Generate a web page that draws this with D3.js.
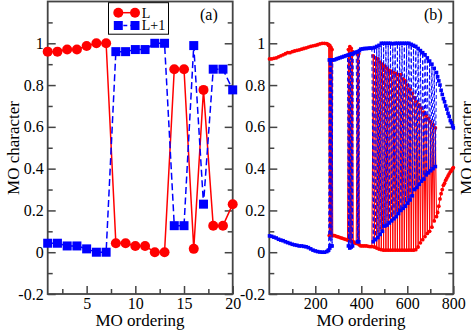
<!DOCTYPE html>
<html lang="en">
<head>
  <meta charset="UTF-8">
  <title>MO character vs MO ordering</title>
  <script src="https://d3js.org/d3.v7.min.js"></script>
  <style>
    body { margin: 0; background: #fff; }
    svg { display: block; }
    text { font-family: "Liberation Serif", "Times New Roman", serif; fill: #000; }
    .axis path { display: none; }
    .axis line { stroke: #444; stroke-width: 1.5px; }
    .axis text { font-size: 16px; }
    .frame { fill: none; stroke: #444; stroke-width: 1.8px; }
    .title { font-size: 17px; }
  </style>
</head>
<body>
  <svg width="471" height="332"></svg>
  <script>
    // panel (a): first 20 MOs
    const aOrder = [1, 2, 3, 4, 5, 6, 7, 8, 9, 10, 11, 12, 13, 14, 15, 16, 17, 18, 19, 20];
    const aL  = [0.96, 0.96, 0.97, 0.97, 0.987, 1.0, 1.0, 0.043, 0.043, 0.03, 0.03, 0.0, 0.0, 0.876, 0.876, 0.016, 0.777, 0.127, 0.127, 0.23];
    const aL1 = [0.043, 0.043, 0.03, 0.03, 0.016, 0.0, 0.0, 0.96, 0.96, 0.97, 0.97, 1.0, 1.0, 0.127, 0.127, 0.989, 0.23, 0.876, 0.876, 0.777];

    // panel (b): all MOs
    const bOrder = [
      1, 10, 20, 30, 40, 50, 60, 70, 80, 90, 100, 110, 120, 130, 140, 150, 160, 170, 180, 190, 200, 210, 220, 230, 240, 250, 256,
      258, 261, 263, 266, 268, 271, 273, 276,
      284, 292, 300, 308, 316, 324, 332, 340,
      344, 347, 350, 353, 356, 359, 362, 365,
      370, 378,
      383, 386, 389, 392,
      398, 406, 414, 422, 430, 438, 446,
      452, 457, 462, 467, 472, 477, 482, 487, 492, 497, 502, 507, 512, 517, 522, 527, 532, 537, 542, 547,
      552, 557, 562, 567, 572, 577, 582, 587, 592, 597, 602, 607, 612, 617, 622, 627, 632, 637, 642, 647,
      652, 657, 662, 667, 672, 677, 682, 687, 692, 697, 702, 707, 712, 717, 722,
      727, 732, 737, 742, 747, 752, 757, 762, 767, 772, 777, 782, 787, 792, 797, 800
    ];
    const bL = [
      0.925, 0.925, 0.928, 0.93, 0.935, 0.94, 0.945, 0.95, 0.955, 0.955, 0.96, 0.963, 0.966, 0.968, 0.972, 0.975, 0.978, 0.982, 0.985, 0.988, 0.99, 0.993, 0.997, 1.0, 1.0, 0.998, 0.995,
      0.99, 0.08, 0.99, 0.08, 0.98, 0.08, 0.97, 0.08,
      0.079, 0.076, 0.073, 0.07, 0.067, 0.064, 0.061, 0.058,
      0.97, 0.06, 0.984, 0.055, 0.975, 0.05, 0.96, 0.05,
      0.045, 0.042,
      0.95, 0.04, 0.95, 0.035,
      0.03, 0.03, 0.03, 0.03, 0.028, 0.027, 0.027,
      0.94, 0.025, 0.93, 0.02, 0.925, 0.015, 0.91, 0.012, 0.9, 0.01, 0.89, 0.01, 0.88, 0.01, 0.87, 0.01, 0.865, 0.01, 0.86, 0.01,
      0.855, 0.01, 0.85, 0.01, 0.85, 0.01, 0.83, 0.01, 0.82, 0.01, 0.8, 0.01, 0.78, 0.01, 0.76, 0.01, 0.74, 0.012, 0.72, 0.025,
      0.705, 0.045, 0.69, 0.06, 0.67, 0.075, 0.655, 0.09, 0.64, 0.1, 0.625, 0.12, 0.61, 0.15, 0.595,
      0.17, 0.19, 0.22, 0.255, 0.28, 0.3, 0.32, 0.33, 0.345, 0.355, 0.365, 0.375, 0.385, 0.39, 0.4, 0.405
    ];
    const bL1 = [
      0.078, 0.076, 0.072, 0.068, 0.062, 0.058, 0.055, 0.05, 0.046, 0.042, 0.038, 0.035, 0.033, 0.03, 0.03, 0.028, 0.026, 0.022, 0.016, 0.01, 0.006, 0.003, 0.001, 0.0, 0.0, 0.003, 0.008,
      0.01, 0.92, 0.02, 0.92, 0.03, 0.92, 0.03, 0.92,
      0.921, 0.925, 0.928, 0.931, 0.934, 0.937, 0.94, 0.943,
      0.03, 0.945, 0.02, 0.948, 0.025, 0.95, 0.03, 0.95,
      0.955, 0.958,
      0.05, 0.96, 0.05, 0.965,
      0.972, 0.973, 0.975, 0.975, 0.976, 0.977, 0.977,
      0.05, 0.98, 0.06, 0.985, 0.07, 0.99, 0.085, 1.0, 0.1, 1.0, 0.125, 1.0, 0.13, 1.0, 0.14, 1.0, 0.15, 0.998, 0.16, 1.0,
      0.17, 1.0, 0.185, 1.0, 0.2, 1.0, 0.21, 1.0, 0.22, 1.0, 0.235, 1.0, 0.25, 0.995, 0.27, 0.99, 0.3, 0.985, 0.31, 0.975,
      0.325, 0.965, 0.34, 0.955, 0.35, 0.945, 0.37, 0.93, 0.38, 0.915, 0.39, 0.9, 0.4, 0.88, 0.41,
      0.86, 0.84, 0.82, 0.8, 0.775, 0.755, 0.735, 0.72, 0.7, 0.685, 0.665, 0.65, 0.63, 0.62, 0.605, 0.595
    ];

    const yMajor = [-0.2, 0, 0.2, 0.4, 0.6, 0.8, 1];
    const yMinor = [-0.1, 0.1, 0.3, 0.5, 0.7, 0.9, 1.1];
    const aMajor = [5, 10, 15, 20];
    const aMinor = [2.5, 7.5, 12.5, 17.5];
    const bMajor = [200, 400, 600, 800];
    const bMinor = [100, 300, 500, 700];

    const svg = d3.select("svg");
    const plotTop = 1.5, plotBottom = 294;
    const y = d3.scaleLinear().domain([-0.2, 1.2]).range([plotBottom, plotTop]);
    const xa = d3.scaleLinear().domain([1, 20]).range([47.7, 232.7]);
    const xb = d3.scaleLinear().domain([0, 800]).range([269.3, 453.3]);
    const fmt = d => String(+d.toFixed(1));

    function drawAxes(x, major, minor) {
      const [x0, x1] = x.range();
      const g = svg.append("g");
      g.append("g").attr("class", "axis").attr("transform", `translate(0,${plotBottom})`)
        .call(d3.axisBottom(x).tickValues(major).tickFormat(fmt).tickSize(-8).tickSizeOuter(0).tickPadding(4));
      g.append("g").attr("class", "axis").attr("transform", `translate(0,${plotBottom})`)
        .call(d3.axisBottom(x).tickValues(minor).tickFormat("").tickSize(-5).tickSizeOuter(0));
      g.append("g").attr("class", "axis").attr("transform", `translate(${x0},0)`)
        .call(d3.axisLeft(y).tickValues(yMajor).tickFormat(fmt).tickSize(-8).tickSizeOuter(0).tickPadding(4));
      g.append("g").attr("class", "axis").attr("transform", `translate(${x0},0)`)
        .call(d3.axisLeft(y).tickValues(yMinor).tickFormat("").tickSize(-5).tickSizeOuter(0));
      g.append("g").attr("class", "axis").attr("transform", `translate(${x1},0)`)
        .call(d3.axisRight(y).tickValues(yMajor).tickFormat("").tickSize(-8).tickSizeOuter(0));
      g.append("g").attr("class", "axis").attr("transform", `translate(${x1},0)`)
        .call(d3.axisRight(y).tickValues(yMinor).tickFormat("").tickSize(-5).tickSizeOuter(0));
      g.append("rect").attr("class", "frame")
        .attr("x", x0).attr("y", plotTop).attr("width", x1 - x0).attr("height", plotBottom - plotTop);
    }

    function drawSeries(x, order, L, L1, st) {
      const ptsL = order.map((o, i) => [o, L[i]]);
      const ptsL1 = order.map((o, i) => [o, L1[i]]);
      const line = d3.line().x(d => x(d[0])).y(d => y(d[1]));
      const g = svg.append("g");
      g.append("path").attr("d", line(ptsL))
        .attr("fill", "none").attr("stroke", "#ff0000").attr("stroke-width", st.lw);
      g.selectAll("circle").data(ptsL).enter().append("circle")
        .attr("cx", d => x(d[0])).attr("cy", d => y(d[1])).attr("r", st.r)
        .attr("fill", "#ff0000");
      g.append("path").attr("d", line(ptsL1))
        .attr("fill", "none").attr("stroke", "#0000ff").attr("stroke-width", st.lw)
        .attr("stroke-dasharray", st.dash);
      g.selectAll("rect").data(ptsL1).enter().append("rect")
        .attr("x", d => x(d[0]) - st.s / 2).attr("y", d => y(d[1]) - st.s / 2)
        .attr("width", st.s).attr("height", st.s)
        .attr("fill", "#0000ff");
    }

    drawAxes(xa, aMajor, aMinor);
    drawAxes(xb, bMajor, bMinor);
    drawSeries(xa, aOrder, aL, aL1, { lw: 1.5, r: 5, s: 9, dash: "7,3.5" });
    drawSeries(xb, bOrder, bL, bL1, { lw: 1, r: 1.9, s: 3.6, dash: "4,2.5" });

    // legend
    const lg = svg.append("g");
    lg.append("rect").attr("x", 108.5).attr("y", 2.7).attr("width", 60).attr("height", 31.5)
      .attr("fill", "#fff").attr("stroke", "#000").attr("stroke-width", 1);
    lg.append("line").attr("x1", 118.3).attr("x2", 135).attr("y1", 12.7).attr("y2", 12.7)
      .attr("stroke", "#ff0000").attr("stroke-width", 1.5);
    [118.3, 135].forEach(cx => lg.append("circle").attr("cx", cx).attr("cy", 12.7).attr("r", 5).attr("fill", "#ff0000"));
    lg.append("line").attr("x1", 118.3).attr("x2", 135).attr("y1", 25.5).attr("y2", 25.5)
      .attr("stroke", "#0000ff").attr("stroke-width", 1.5).attr("stroke-dasharray", "4,3").attr("stroke-dashoffset", -5);
    [118.3, 135].forEach(cx => lg.append("rect").attr("x", cx - 4.5).attr("y", 21).attr("width", 9).attr("height", 9).attr("fill", "#0000ff"));
    lg.append("text").attr("x", 141.7).attr("y", 17.5).style("font-size", "14px").text("L");
    lg.append("text").attr("x", 141.7).attr("y", 30.2).style("font-size", "14px").text("L+1");

    // panel tags
    svg.append("text").attr("x", 200).attr("y", 19.5).style("font-size", "16px").text("(a)");
    svg.append("text").attr("x", 424).attr("y", 19.5).style("font-size", "16px").text("(b)");

    // axis titles
    svg.append("text").attr("class", "title").attr("x", 140).attr("y", 326)
      .attr("text-anchor", "middle").text("MO ordering");
    svg.append("text").attr("class", "title").attr("x", 361).attr("y", 326)
      .attr("text-anchor", "middle").text("MO ordering");
    svg.append("text").attr("class", "title").attr("transform", "translate(19,148) rotate(-90)")
      .attr("text-anchor", "middle").text("MO character");
    svg.append("text").attr("class", "title").attr("transform", "translate(471.5,148) rotate(-90)")
      .attr("text-anchor", "middle").text("MO character");
  </script>
</body>
</html>
